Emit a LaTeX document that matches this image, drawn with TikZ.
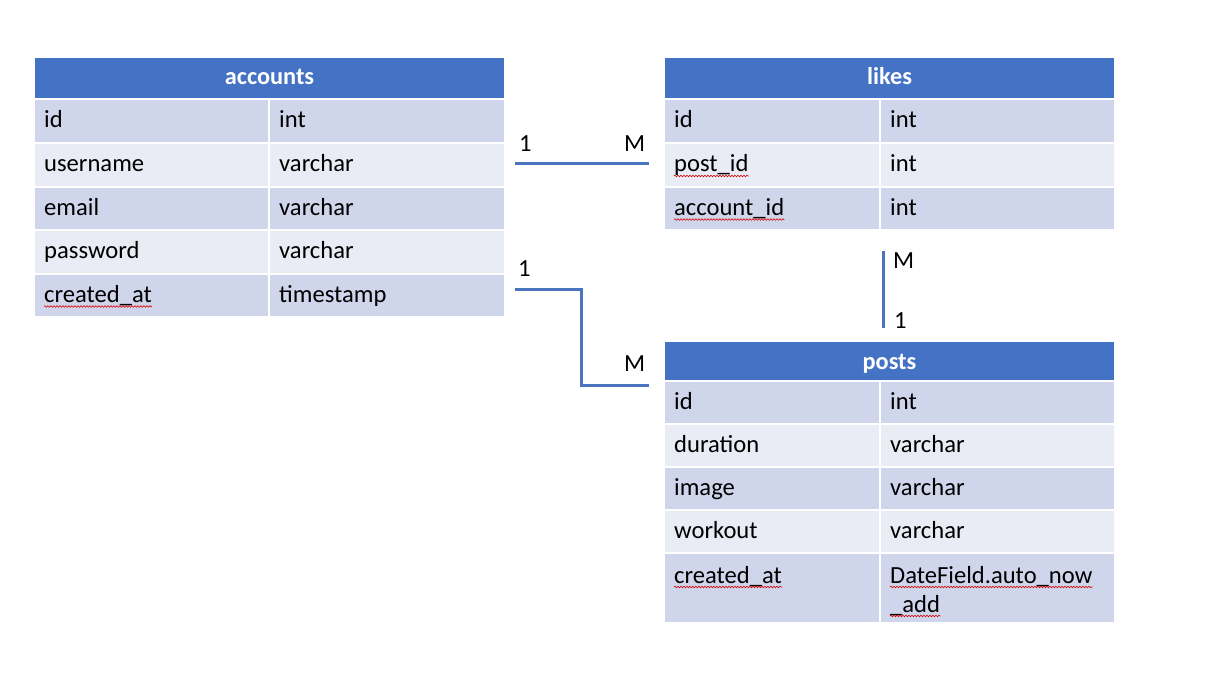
\documentclass[tikz,border=0pt]{standalone}
\usepackage{fontspec}
\setmainfont{Carlito}
\usepackage{xcolor}
\usepackage{tikz}
\usetikzlibrary{decorations.pathmorphing}

\definecolor{hdblue}{HTML}{4472C4}
\definecolor{rowdark}{HTML}{CFD5EA}
\definecolor{rowlight}{HTML}{E9EBF5}
\definecolor{linkblue}{HTML}{4A74C0}

\begin{document}
\begin{tikzpicture}[x=1pt,y=-1pt,
  txt/.style={anchor=base west,inner sep=0pt,font=\fontsize{24.6}{29}\selectfont},
  head/.style={anchor=base,inner sep=0pt,text=white,font=\fontsize{24.3}{29}\selectfont\bfseries},
  card/.style={anchor=base west,inner sep=0pt,font=\fontsize{24.6}{29}\selectfont},
  link/.style={linkblue,line width=3pt},
  squig/.style={red!85!black,line width=0.6pt,decorate,decoration={snake,amplitude=0.8pt,segment length=3pt}}]
\useasboundingbox[fill=white] (0,0) rectangle (1211,687);

% accounts
\fill[hdblue] (35,58) rectangle (504,98);
\node[head] (acchead) at (269.5,85) {accounts};
\fill[rowdark]  (35,100) rectangle (268,142); \fill[rowdark]  (270,100) rectangle (504,142);
\fill[rowlight] (35,144) rectangle (268,186); \fill[rowlight] (270,144) rectangle (504,186);
\fill[rowdark]  (35,188) rectangle (268,229); \fill[rowdark]  (270,188) rectangle (504,229);
\fill[rowlight] (35,231) rectangle (268,273); \fill[rowlight] (270,231) rectangle (504,273);
\fill[rowdark]  (35,275) rectangle (268,316); \fill[rowdark]  (270,275) rectangle (504,316);
\node[txt] (accid)   at (44,128)  {id};        \node[txt] (accidt)   at (279,128) {int};
\node[txt] (accuser) at (44,172)  {username};  \node[txt] (accusert) at (279,172) {varchar};
\node[txt] (accmail) at (44,215.5){email};     \node[txt] (accmailt) at (279,215.5) {varchar};
\node[txt] (accpass) at (44,259)  {password};  \node[txt] (accpasst) at (279,259) {varchar};
\node[txt] (acccrt)  at (44,302.5){created\_at}; \node[txt] (acccrtt) at (279,302.5) {timestamp};
\draw[squig] ([yshift=-4pt]acccrt.base west) -- ([yshift=-4pt]acccrt.base east);

% likes
\fill[hdblue] (665,58) rectangle (1114,98);
\node[head] (likhead) at (889.5,85) {likes};
\fill[rowdark]  (665,100) rectangle (879,142); \fill[rowdark]  (881,100) rectangle (1114,142);
\fill[rowlight] (665,144) rectangle (879,186); \fill[rowlight] (881,144) rectangle (1114,186);
\fill[rowdark]  (665,188) rectangle (879,229); \fill[rowdark]  (881,188) rectangle (1114,229);
\node[txt] (likid)   at (674,128)  {id};          \node[txt] (likidt)   at (890,128) {int};
\node[txt] (likpost) at (674,172)  {post\_id};    \node[txt] (likpostt) at (890,172) {int};
\node[txt] (likacc)  at (674,215.5){account\_id}; \node[txt] (likacct)  at (890,215.5) {int};
\draw[squig] ([yshift=-4pt]likpost.base west) -- ([yshift=-4pt]likpost.base east);
\draw[squig] ([yshift=-4pt]likacc.base west) -- ([yshift=-4pt]likacc.base east);

% posts
\fill[hdblue] (665,342) rectangle (1114,380);
\node[head] (posthead) at (889.5,369) {posts};
\fill[rowdark]  (665,382) rectangle (879,423); \fill[rowdark]  (881,382) rectangle (1114,423);
\fill[rowlight] (665,425) rectangle (879,466); \fill[rowlight] (881,425) rectangle (1114,466);
\fill[rowdark]  (665,468) rectangle (879,509); \fill[rowdark]  (881,468) rectangle (1114,509);
\fill[rowlight] (665,511) rectangle (879,552); \fill[rowlight] (881,511) rectangle (1114,552);
\fill[rowdark]  (665,554) rectangle (879,622); \fill[rowdark]  (881,554) rectangle (1114,622);
\node[txt] (postid)   at (674,409.5) {id};        \node[txt] (postidt)   at (890,409.5) {int};
\node[txt] (postdur)  at (674,452.5) {duration};  \node[txt] (postdurt)  at (890,452.5) {varchar};
\node[txt] (postimg)  at (674,495.5) {image};     \node[txt] (postimgt)  at (890,495.5) {varchar};
\node[txt] (postwork) at (674,538.5) {workout};   \node[txt] (postworkt) at (890,538.5) {varchar};
\node[txt] (postcrt)  at (674,583)   {created\_at};
\node[txt] (postcrta) at (890,583)   {DateField.auto\_now};
\node[txt] (postcrtb) at (890,612)   {\_add};
\draw[squig] ([yshift=-4pt]postcrt.base west) -- ([yshift=-4pt]postcrt.base east);
\draw[squig] ([yshift=-4pt]postcrta.base west) -- ([yshift=-4pt]postcrta.base east);
\draw[squig] ([yshift=-4pt]postcrtb.base west) -- ([yshift=-4pt]postcrtb.base east);

% relations
\coordinate (r1a) at (515,164);  \coordinate (r1b) at (649,164);
\coordinate (r2a) at (515,289.5); \coordinate (r2b) at (649,385);
\coordinate (r3a) at (883.5,251); \coordinate (r3b) at (883.5,328);
\draw[link] (r1a) -- (r1b);
\draw[link] (r2a) -| (581,337) |- (r2b);
\draw[link] (r3a) -- (r3b);
\node[card] (c1a) at (519,152) {1};   \node[card] (c1b) at (624,152) {M};
\node[card] (c2a) at (518,277) {1};   \node[card] (c2b) at (624,371.5) {M};
\node[card] (c3a) at (893,269) {M};   \node[card] (c3b) at (894,328) {1};
\end{tikzpicture}
\end{document}
